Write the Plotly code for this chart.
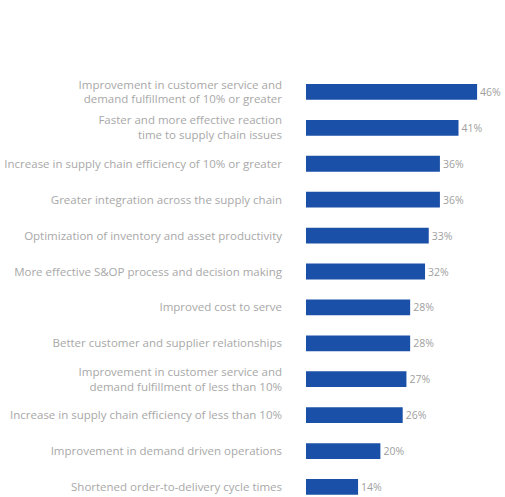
import plotly.graph_objects as go

categories = [
    "Improvement in customer service and<br>demand fulfillment of 10% or greater",
    "Faster and more effective reaction<br>time to supply chain issues",
    "Increase in supply chain efficiency of 10% or greater",
    "Greater integration across the supply chain",
    "Optimization of inventory and asset productivity",
    "More effective S&OP process and decision making",
    "Improved cost to serve",
    "Better customer and supplier relationships",
    "Improvement in customer service and<br>demand fulfillment of less than 10%",
    "Increase in supply chain efficiency of less than 10%",
    "Improvement in demand driven operations",
    "Shortened order-to-delivery cycle times",
]
values = [46, 41, 36, 36, 33, 32, 28, 28, 27, 26, 20, 14]

fig = go.Figure(go.Bar(
    x=values,
    y=categories,
    orientation="h",
    marker=dict(color="#1a50a8", line=dict(width=0)),
    text=[f"{v}%" for v in values],
    textposition="outside",
    textfont=dict(size=10.5, color="#a0a0a0", family="Open Sans"),
    cliponaxis=False,
))

fig.update_layout(
    width=505, height=497,
    margin=dict(l=306, r=0, t=74, b=0, autoexpand=False),
    paper_bgcolor="white", plot_bgcolor="white",
    bargap=0.56,
    showlegend=False,
    font=dict(family="Open Sans", size=11.5, color="#a8a8a8"),
    xaxis=dict(range=[0, 53.5], visible=False, showgrid=False, zeroline=False),
    yaxis=dict(range=[11.28, -0.5], showgrid=False, zeroline=False, showline=False,
               ticks="", ticklabelstandoff=23, automargin=False,
               tickfont=dict(size=11.5, color="#a8a8a8", family="Open Sans")),
)

fig.write_html("out.html")
